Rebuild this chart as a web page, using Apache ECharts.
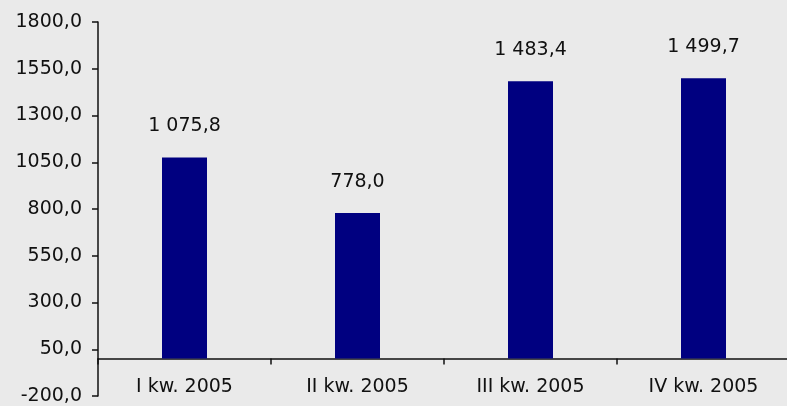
<!DOCTYPE html>
<html>
<head>
<meta charset="utf-8">
<script src="https://cdn.jsdelivr.net/npm/echarts@6/dist/echarts.min.js"></script>
<style>
  html, body { margin: 0; padding: 0; background: #eaeaea; }
  #chart { width: 787px; height: 406px; }
</style>
</head>
<body>
<div id="chart"></div>
<script>
// Quarterly values, 2005
const categories = ['I kw. 2005', 'II kw. 2005', 'III kw. 2005', 'IV kw. 2005'];
const values = [1075.8, 778.0, 1483.4, 1499.7];
const yTicks = [-200, 50, 300, 550, 800, 1050, 1300, 1550, 1800];
const yMin = -200;
const yMax = 1800;

// Polish style: comma decimal, space as thousands separator
function fmtValue(v) {
  const parts = v.toFixed(1).split('.');
  const intPart = parts[0].replace(/\B(?=(\d{3})+(?!\d))/g, ' ');
  return intPart + ',' + parts[1];
}
function fmtTick(v) {
  return v.toFixed(1).replace('.', ',');
}

const font = 'DejaVu Sans';
const gridTop = 22, gridBottom = 10, chartH = 406;
const plotH = chartH - gridTop - gridBottom;
// category axis sits on the zero line of the value axis
const zeroOffset = -plotH * (0 - yMin) / (yMax - yMin);

const chart = echarts.init(document.getElementById('chart'), null, { renderer: 'canvas' });
chart.setOption({
  backgroundColor: '#eaeaea',
  animation: false,
  grid: { left: 98, top: gridTop, width: 692, bottom: gridBottom, containLabel: false, outerBoundsMode: 'none' },
  xAxis: {
    type: 'category',
    position: 'bottom',
    offset: zeroOffset,
    data: categories,
    axisLine: { onZero: false, lineStyle: { color: '#111', width: 1.5 } },
    axisTick: { show: true, length: 6, lineStyle: { color: '#111', width: 1.5 } },
    axisLabel: { color: '#111', fontFamily: font, fontSize: 19, margin: 19 },
    splitLine: { show: false }
  },
  yAxis: {
    type: 'value',
    min: yMin,
    max: yMax,
    axisLine: { show: true, lineStyle: { color: '#111', width: 1.5 } },
    axisTick: { show: true, length: 6, customValues: yTicks, lineStyle: { color: '#111', width: 1.5 } },
    axisLabel: {
      color: '#111', fontFamily: font, fontSize: 19, margin: 16,
      customValues: yTicks,
      formatter: fmtTick
    },
    splitLine: { show: false }
  },
  series: [{
    type: 'bar',
    data: values,
    barWidth: 45,
    itemStyle: { color: '#000080' },
    label: {
      show: true,
      position: 'top',
      distance: 22,
      color: '#111',
      fontFamily: font,
      fontSize: 19,
      formatter: p => fmtValue(p.value)
    }
  }]
});
</script>
</body>
</html>
